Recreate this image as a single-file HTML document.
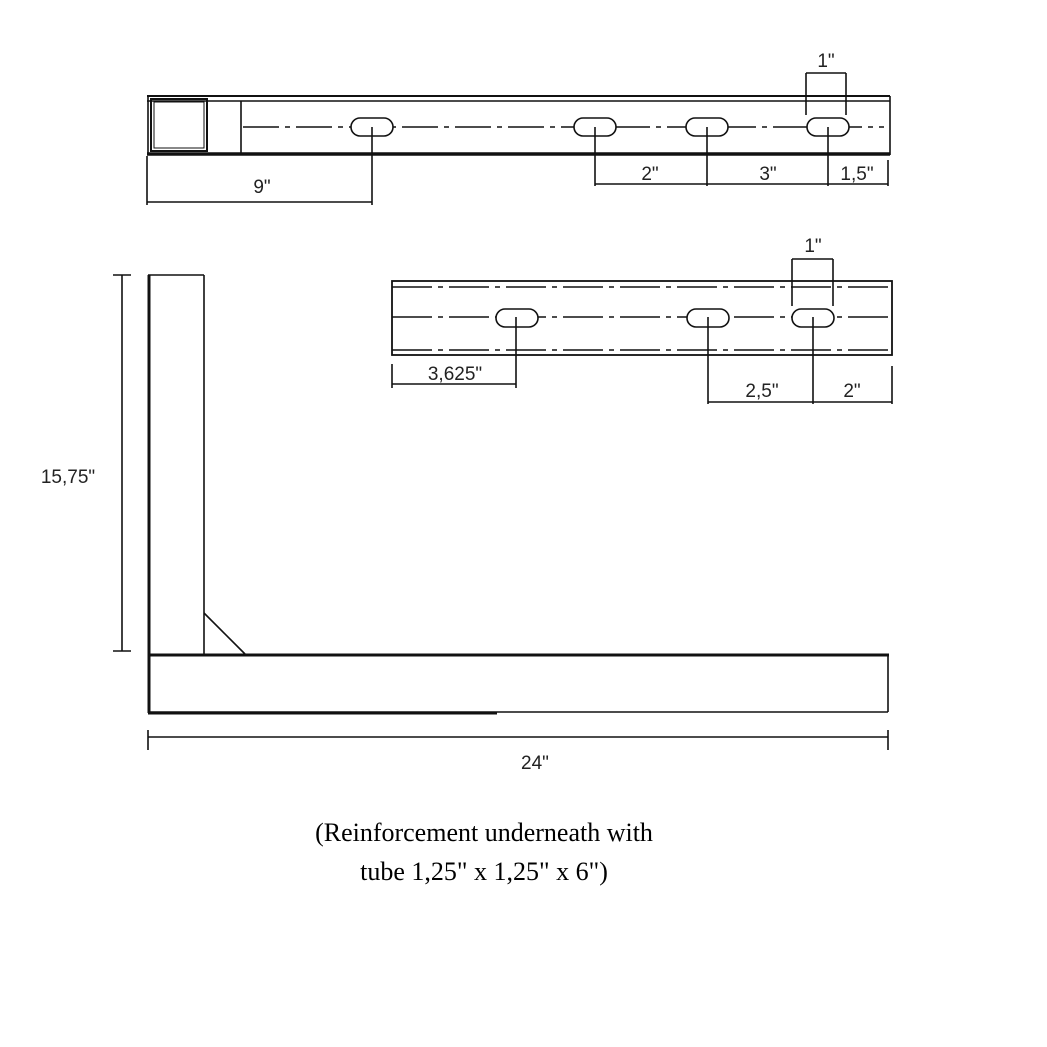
<!DOCTYPE html>
<html><head><style>body{margin:0;background:#fff}svg{display:block}</style></head><body>
<svg width="1047" height="1047" viewBox="0 0 1047 1047" xmlns="http://www.w3.org/2000/svg">
<g fill="none" stroke="#111" stroke-width="1.6">
<!-- top bar -->
<line x1="147" y1="96" x2="890" y2="96" stroke-width="2"/>
<line x1="147" y1="101" x2="890" y2="101"/>
<line x1="147" y1="154" x2="890" y2="154" stroke-width="3.5"/>
<line x1="148" y1="96" x2="148" y2="155"/>
<line x1="890" y1="96" x2="890" y2="155"/>
<rect x="151" y="99" width="56" height="52" stroke-width="2"/>
<rect x="154" y="102" width="50" height="46" stroke-width="1"/>
<line x1="241" y1="101" x2="241" y2="153"/>
<line x1="243" y1="127" x2="884" y2="127" stroke-dasharray="36,6,5,6"/>
<g fill="#fff">
<rect x="351" y="118" width="42" height="18" rx="9"/>
<rect x="574" y="118" width="42" height="18" rx="9"/>
<rect x="686" y="118" width="42" height="18" rx="9"/>
<rect x="807" y="118" width="42" height="18" rx="9"/>
</g>
<line x1="372" y1="127" x2="372" y2="205"/>
<line x1="147" y1="156" x2="147" y2="205"/>
<line x1="147" y1="202" x2="372" y2="202"/>
<line x1="595" y1="127" x2="595" y2="186"/>
<line x1="707" y1="127" x2="707" y2="186"/>
<line x1="828" y1="127" x2="828" y2="186"/>
<line x1="888" y1="160" x2="888" y2="186"/>
<line x1="595" y1="184" x2="888" y2="184"/>
<line x1="806" y1="73" x2="846" y2="73"/>
<line x1="806" y1="73" x2="806" y2="115"/>
<line x1="846" y1="73" x2="846" y2="115"/>
<!-- second bar -->
<rect x="392" y="281" width="500" height="74" stroke-width="1.8"/>
<line x1="392" y1="287" x2="892" y2="287" stroke-dasharray="40,6,5,6"/>
<line x1="392" y1="317" x2="892" y2="317" stroke-dasharray="40,6,5,6"/>
<line x1="392" y1="350" x2="892" y2="350" stroke-dasharray="40,6,5,6"/>
<g fill="#fff">
<rect x="496" y="309" width="42" height="18" rx="9"/>
<rect x="687" y="309" width="42" height="18" rx="9"/>
<rect x="792" y="309" width="42" height="18" rx="9"/>
</g>
<line x1="392" y1="364" x2="392" y2="388"/>
<line x1="516" y1="317" x2="516" y2="388"/>
<line x1="392" y1="384" x2="516" y2="384"/>
<line x1="708" y1="317" x2="708" y2="404"/>
<line x1="813" y1="317" x2="813" y2="404"/>
<line x1="892" y1="366" x2="892" y2="404"/>
<line x1="708" y1="402" x2="892" y2="402"/>
<line x1="792" y1="259" x2="833" y2="259"/>
<line x1="792" y1="259" x2="792" y2="306"/>
<line x1="833" y1="259" x2="833" y2="306"/>
<!-- L shape -->
<line x1="149" y1="275" x2="149" y2="713" stroke-width="3"/>
<line x1="148" y1="275" x2="204" y2="275"/>
<line x1="204" y1="275" x2="204" y2="654"/>
<line x1="204" y1="613" x2="245" y2="654"/>
<line x1="148" y1="655" x2="889" y2="655" stroke-width="3"/>
<line x1="148" y1="712" x2="888" y2="712"/>
<line x1="148" y1="713" x2="497" y2="713" stroke-width="3"/>
<line x1="888" y1="654" x2="888" y2="712"/>
<line x1="122" y1="275" x2="122" y2="651"/>
<line x1="113" y1="275" x2="131" y2="275"/>
<line x1="113" y1="651" x2="131" y2="651"/>
<line x1="148" y1="737" x2="888" y2="737"/>
<line x1="148" y1="730" x2="148" y2="750"/>
<line x1="888" y1="730" x2="888" y2="750"/>
</g>
<g font-family="Liberation Sans, sans-serif" font-size="19" fill="#222" text-anchor="middle">
<text x="262" y="193">9"</text>
<text x="650" y="180">2"</text>
<text x="768" y="180">3"</text>
<text x="857" y="180">1,5"</text>
<text x="826" y="67">1"</text>
<text x="455" y="380">3,625"</text>
<text x="762" y="397">2,5"</text>
<text x="852" y="397">2"</text>
<text x="813" y="252">1"</text>
<text x="68" y="483">15,75"</text>
<text x="535" y="769">24"</text>
</g>
<g font-family="Liberation Serif, serif" font-size="26" fill="#000" text-anchor="middle">
<text x="484" y="841">(Reinforcement underneath with</text>
<text x="484" y="880">tube 1,25" x 1,25" x 6")</text>
</g>
</svg>
</body></html>
